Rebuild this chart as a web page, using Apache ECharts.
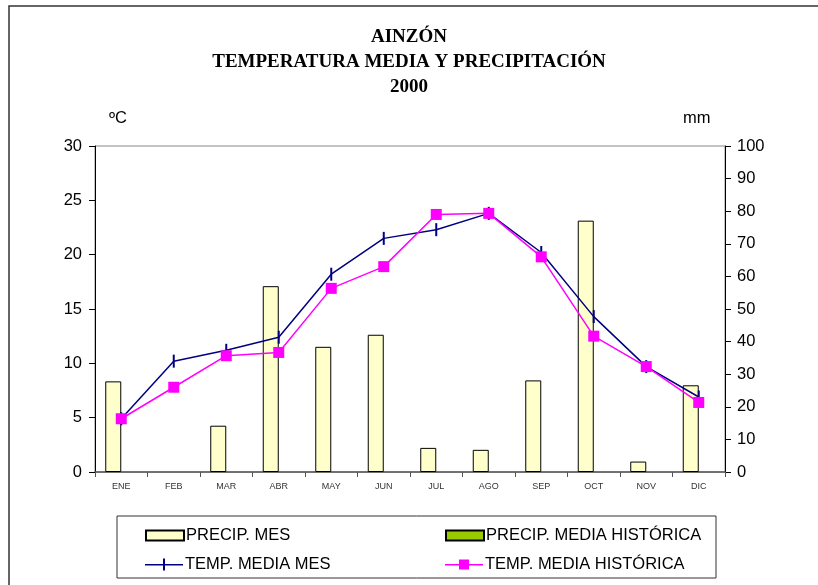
<!DOCTYPE html>
<html>
<head>
<meta charset="utf-8">
<script src="https://cdn.jsdelivr.net/npm/echarts@6/dist/echarts.min.js"></script>
<style>
  html, body { margin: 0; padding: 0; background: #fff; }
  #chart { width: 818px; height: 585px; }
</style>
</head>
<body>
<div id="chart"></div>
<script>
const meses = ['ENE', 'FEB', 'MAR', 'ABR', 'MAY', 'JUN', 'JUL', 'AGO', 'SEP', 'OCT', 'NOV', 'DIC'];
// precipitacion del año (mm, eje derecho)
const precipMes = [27.8, 0, 14.2, 57.0, 38.4, 42.1, 7.4, 6.8, 28.1, 77.1, 3.2, 26.6];
// la media historica de precipitacion no trae datos en el grafico
const precipHistorica = [null, null, null, null, null, null, null, null, null, null, null, null];
// temperaturas (ºC, eje izquierdo)
const tempMes = [4.9, 10.2, 11.2, 12.4, 18.2, 21.5, 22.3, 23.8, 20.2, 14.3, 9.7, 6.9];
const tempHistorica = [4.9, 7.8, 10.7, 11.0, 16.9, 18.9, 23.7, 23.8, 19.8, 12.5, 9.7, 6.4];

const font = 'Liberation Sans';

// un mes sin lluvia no dibuja barra (ni su borde)
const precipBarras = precipMes.map(v => v === 0 ? null : v);

function leyenda(nombre, left, top, icon, h) {
  return {
    data: [{ name: nombre, icon: icon }],
    left: left, top: top,
    itemWidth: 38, itemHeight: h, itemGap: 0,
    textStyle: { fontFamily: font, fontSize: 16.5, color: '#000', padding: [0, 0, 0, -3] }
  };
}

const iconoMes = 'path://M0,5.5 L38,5.5 L38,7 L0,7 Z M18,0 L20,0 L20,12 L18,12 Z';
const iconoHist = 'path://M0,5.5 L38,5.5 L38,7 L0,7 Z M14,1 L24,1 L24,11 L14,11 Z';

const chart = echarts.init(document.getElementById('chart'));
chart.setOption({
  animation: false,
  backgroundColor: '#fff',
  title: {
    text: 'AINZÓN\nTEMPERATURA MEDIA Y PRECIPITACIÓN\n2000',
    left: 'center',
    top: 20,
    textStyle: {
      fontFamily: 'Liberation Serif',
      fontSize: 19,
      fontWeight: 'bold',
      color: '#000',
      lineHeight: 25
    }
  },
  graphic: [
    {
      type: 'rect',
      shape: { x: 9, y: 6, width: 830, height: 620 },
      style: { fill: 'none', stroke: '#333', lineWidth: 1.5 }
    },
    {
      type: 'rect',
      shape: { x: 117, y: 516, width: 599, height: 62 },
      style: { fill: 'none', stroke: '#333', lineWidth: 1 }
    },
    {
      type: 'text', left: 109, top: 110,
      style: { text: 'ºC', font: '16.5px "Liberation Sans"', fill: '#000' }
    },
    {
      type: 'text', left: 683, top: 110,
      style: { text: 'mm', font: '16.5px "Liberation Sans"', fill: '#000' }
    }
  ],
  legend: [
    leyenda('PRECIP. MES', 140, 522, 'rect', 10),
    leyenda('PRECIP. MEDIA HISTÓRICA', 440, 522, 'rect', 10),
    leyenda('TEMP. MEDIA MES', 140, 551, iconoMes, 12),
    leyenda('TEMP. MEDIA HISTÓRICA', 440, 551, iconoHist, 12)
  ],
  grid: {
    left: 95, right: 93, top: 146, bottom: 113,
    show: true, borderColor: '#888', borderWidth: 1
  },
  xAxis: {
    type: 'category',
    data: meses,
    boundaryGap: true,
    axisLine: { lineStyle: { color: '#555', width: 1.5 } },
    axisTick: { show: true, interval: 0, length: 5, lineStyle: { color: '#555' } },
    axisLabel: { fontFamily: font, fontSize: 9, color: '#333', margin: 10 }
  },
  yAxis: [
    {
      type: 'value', min: 0, max: 30, interval: 5,
      axisLine: { show: true, lineStyle: { color: '#000' } },
      axisTick: { show: true, length: 6, lineStyle: { color: '#000' } },
      axisLabel: { fontFamily: font, fontSize: 16.5, color: '#000', margin: 13 },
      splitLine: { show: false }
    },
    {
      type: 'value', min: 0, max: 100, interval: 10, position: 'right',
      axisLine: { show: true, lineStyle: { color: '#000' } },
      axisTick: { show: true, length: 6, lineStyle: { color: '#000' } },
      axisLabel: { fontFamily: font, fontSize: 16.5, color: '#000', margin: 12 },
      splitLine: { show: false }
    }
  ],
  series: [
    {
      name: 'PRECIP. MES',
      type: 'bar',
      yAxisIndex: 1,
      data: precipBarras,
      barWidth: 16,
      barGap: '0%',
      itemStyle: { color: '#FFFFCC', borderColor: '#000', borderWidth: 1 }
    },
    {
      name: 'PRECIP. MEDIA HISTÓRICA',
      type: 'bar',
      yAxisIndex: 1,
      data: precipHistorica,
      barWidth: 16,
      barGap: '0%',
      itemStyle: { color: '#99CC00', borderColor: '#000', borderWidth: 1 }
    },
    {
      name: 'TEMP. MEDIA MES',
      type: 'line',
      yAxisIndex: 0,
      data: tempMes,
      symbol: 'rect',
      symbolSize: [2, 13],
      lineStyle: { color: '#000080', width: 1.5 },
      itemStyle: { color: '#000080' }
    },
    {
      name: 'TEMP. MEDIA HISTÓRICA',
      type: 'line',
      yAxisIndex: 0,
      data: tempHistorica,
      symbol: 'rect',
      symbolSize: 11,
      lineStyle: { color: '#FF00FF', width: 1.5 },
      itemStyle: { color: '#FF00FF' }
    }
  ]
});
</script>
</body>
</html>
